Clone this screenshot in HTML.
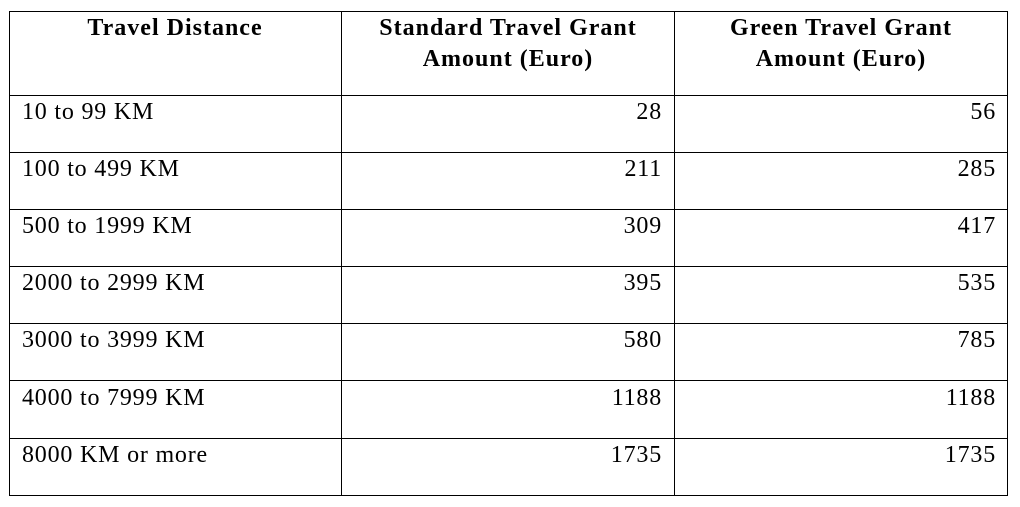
<!DOCTYPE html>
<html><head><style>
body{margin:0;width:1020px;height:507px;background:#fff;position:relative;font-family:"Liberation Serif",serif;font-size:24px;color:#000;letter-spacing:0.8px;}
.l{position:absolute;background:#000;}
.t{position:absolute;line-height:26px;white-space:nowrap;}
.h{font-weight:bold;text-align:center;line-height:31px;letter-spacing:1px;}
.r{text-align:right;}
</style></head><body>
<div class="l" style="left:9px;top:11px;width:999px;height:1px"></div>
<div class="l" style="left:9px;top:95px;width:999px;height:1px"></div>
<div class="l" style="left:9px;top:152px;width:999px;height:1px"></div>
<div class="l" style="left:9px;top:209px;width:999px;height:1px"></div>
<div class="l" style="left:9px;top:266px;width:999px;height:1px"></div>
<div class="l" style="left:9px;top:323px;width:999px;height:1px"></div>
<div class="l" style="left:9px;top:380px;width:999px;height:1px"></div>
<div class="l" style="left:9px;top:438px;width:999px;height:1px"></div>
<div class="l" style="left:9px;top:495px;width:999px;height:1px"></div>
<div class="l" style="left:9px;top:11px;width:1px;height:485px"></div>
<div class="l" style="left:341px;top:11px;width:1px;height:485px"></div>
<div class="l" style="left:674px;top:11px;width:1px;height:485px"></div>
<div class="l" style="left:1007px;top:11px;width:1px;height:485px"></div>

<div class="t h" style="left:9px;width:332px;top:13px">Travel Distance</div>
<div class="t h" style="left:342px;width:332px;top:13px">Standard Travel Grant<br>Amount (Euro)</div>
<div class="t h" style="left:675px;width:332px;top:13px">Green Travel Grant<br>Amount (Euro)</div>

<div class="t" style="left:22px;top:99px">10 to 99 KM</div>
<div class="t" style="left:22px;top:156px">100 to 499 KM</div>
<div class="t" style="left:22px;top:213px">500 to 1999 KM</div>
<div class="t" style="left:22px;top:270px">2000 to 2999 KM</div>
<div class="t" style="left:22px;top:327px">3000 to 3999 KM</div>
<div class="t" style="left:22px;top:385px">4000 to 7999 KM</div>
<div class="t" style="left:22px;top:442px">8000 KM or more</div>

<div class="t r" style="left:342px;width:320px;top:99px">28</div>
<div class="t r" style="left:342px;width:320px;top:156px">211</div>
<div class="t r" style="left:342px;width:320px;top:213px">309</div>
<div class="t r" style="left:342px;width:320px;top:270px">395</div>
<div class="t r" style="left:342px;width:320px;top:327px">580</div>
<div class="t r" style="left:342px;width:320px;top:385px">1188</div>
<div class="t r" style="left:342px;width:320px;top:442px">1735</div>

<div class="t r" style="left:675px;width:321px;top:99px">56</div>
<div class="t r" style="left:675px;width:321px;top:156px">285</div>
<div class="t r" style="left:675px;width:321px;top:213px">417</div>
<div class="t r" style="left:675px;width:321px;top:270px">535</div>
<div class="t r" style="left:675px;width:321px;top:327px">785</div>
<div class="t r" style="left:675px;width:321px;top:385px">1188</div>
<div class="t r" style="left:675px;width:321px;top:442px">1735</div>
</body></html>
